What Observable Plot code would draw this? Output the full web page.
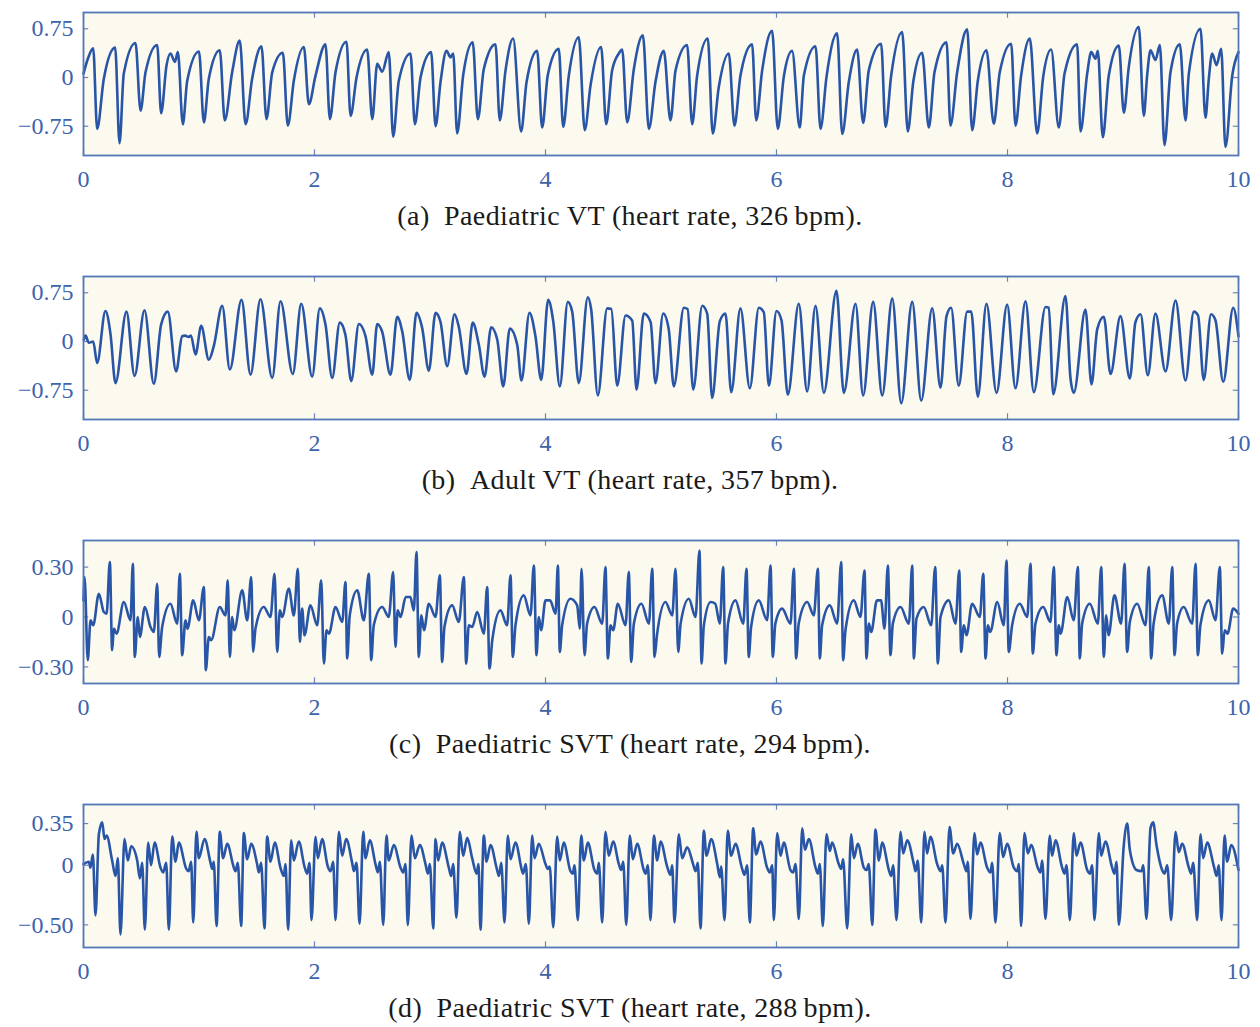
<!DOCTYPE html>
<html><head><meta charset="utf-8">
<script src="https://cdn.jsdelivr.net/npm/d3@7"></script>
<script src="https://cdn.jsdelivr.net/npm/@observablehq/plot@0.6"></script>
<style>
body{margin:0;background:#fff;width:1260px;}
.panel{position:relative;width:1260px;height:264px;}
.panel svg{position:absolute;left:0;top:0;}
.cap{position:absolute;left:0;width:1260px;top:200px;line-height:32px;text-align:center;font-family:"Liberation Serif","DejaVu Serif",serif;font-size:28px;letter-spacing:0.4px;color:#1a1a1a;white-space:pre;}
</style></head><body><div id="root"></div><script>
// ---- data (time s, amplitude) ----
const xTicks = [0, 2, 4, 6, 8, 10];
const captions = [
  "(a)\u2002Paediatric VT (heart rate, 326\u2009bpm).",
  "(b)\u2002Adult VT (heart rate, 357\u2009bpm).",
  "(c)\u2002Paediatric SVT (heart rate, 294\u2009bpm).",
  "(d)\u2002Paediatric SVT (heart rate, 288\u2009bpm)."
];
const yTicksA = [-0.75, 0, 0.75], yLabelsA = ["\u22120.75", "0", "0.75"];
const yTicksB = [-0.75, 0, 0.75], yLabelsB = ["\u22120.75", "0", "0.75"];
const yTicksC = [-0.30, 0, 0.30], yLabelsC = ["\u22120.30", "0", "0.30"];
const yTicksD = [-0.50, 0, 0.35], yLabelsD = ["\u22120.50", "0", "0.35"];
const yDomainA = [-1.2, 1.0], yDomainB = [-1.2, 1.0], yDomainC = [-0.40, 0.46], yDomainD = [-0.69, 0.51];

const paedVT = [[0,0.06],[0.04,0.30],[0.084,0.45],[0.118,-0.79],[0.176,-0.02],[0.274,0.46],[0.312,-1.01],[0.349,0.06],[0.45,0.53],[0.494,-0.51],[0.537,0.08],[0.638,0.50],[0.672,-0.55],[0.719,0.19],[0.753,0.37],[0.791,0.24],[0.817,0.39],[0.86,-0.72],[0.898,-0.05],[1.0,0.40],[1.042,-0.69],[1.085,-0.02],[1.18,0.42],[1.223,-0.66],[1.287,0.08],[1.353,0.57],[1.403,-0.72],[1.46,-0.02],[1.541,0.48],[1.584,-0.64],[1.634,0.08],[1.726,0.38],[1.769,-0.74],[1.821,-0.05],[1.908,0.47],[1.951,-0.41],[2.009,0.03],[2.095,0.51],[2.133,-0.64],[2.182,0.08],[2.277,0.55],[2.312,-0.59],[2.364,0.0],[2.456,0.43],[2.5,-0.64],[2.543,0.21],[2.586,0.09],[2.643,0.39],[2.681,-0.91],[2.73,-0.05],[2.831,0.37],[2.869,-0.72],[2.918,0.0],[3.01,0.39],[3.048,-0.75],[3.091,-0.07],[3.143,0.41],[3.177,0.31],[3.201,0.37],[3.235,-0.86],[3.287,0.03],[3.37,0.54],[3.414,-0.64],[3.466,0.13],[3.567,0.51],[3.604,-0.66],[3.654,0.11],[3.72,0.60],[3.789,-0.83],[3.836,-0.07],[3.928,0.41],[3.971,-0.77],[4.02,0.04],[4.115,0.44],[4.153,-0.76],[4.202,0.03],[4.288,0.62],[4.34,-0.81],[4.39,-0.12],[4.482,0.47],[4.525,-0.72],[4.577,0.11],[4.635,0.37],[4.664,0.43],[4.707,-0.69],[4.765,0.13],[4.843,0.65],[4.895,-0.79],[4.952,-0.07],[5.024,0.41],[5.082,-0.66],[5.126,0.11],[5.226,0.50],[5.27,-0.72],[5.313,0.03],[5.405,0.60],[5.448,-0.86],[5.5,-0.15],[5.587,0.37],[5.636,-0.74],[5.688,0.03],[5.789,0.51],[5.824,-0.66],[5.876,0.11],[5.962,0.72],[6.011,-0.79],[6.063,0.01],[6.135,0.41],[6.201,-0.77],[6.237,0.03],[6.338,0.48],[6.381,-0.79],[6.433,0.01],[6.525,0.68],[6.569,-0.87],[6.626,-0.07],[6.698,0.43],[6.75,-0.70],[6.799,0.11],[6.906,0.52],[6.944,-0.76],[6.993,0.03],[7.088,0.70],[7.137,-0.83],[7.184,-0.07],[7.261,0.38],[7.319,-0.77],[7.368,0.08],[7.472,0.54],[7.506,-0.74],[7.564,0.08],[7.651,0.74],[7.694,-0.81],[7.743,-0.05],[7.818,0.42],[7.881,-0.71],[7.933,0.08],[8.032,0.52],[8.069,-0.74],[8.118,0.03],[8.193,0.60],[8.257,-0.86],[8.309,0.01],[8.378,0.43],[8.444,-0.77],[8.494,0.06],[8.603,0.51],[8.632,-0.83],[8.69,0.06],[8.725,0.39],[8.762,0.29],[8.782,0.41],[8.825,-0.92],[8.877,0.03],[8.964,0.49],[9.007,-0.54],[9.05,0.16],[9.137,0.78],[9.18,-0.59],[9.209,0.03],[9.238,0.42],[9.281,0.27],[9.319,0.50],[9.359,-1.04],[9.411,0.08],[9.492,0.51],[9.541,-0.66],[9.57,0.06],[9.671,0.75],[9.714,-0.62],[9.743,-0.02],[9.772,0.37],[9.81,0.19],[9.85,0.44],[9.887,-1.07],[9.946,0.03],[10,0.39]];

const adultVT = [[0.003,0.03],[0.017,0.09],[0.046,-0.02],[0.084,0.0],[0.118,-0.33],[0.19,0.47],[0.234,0.11],[0.277,-0.64],[0.372,0.46],[0.442,-0.53],[0.528,0.48],[0.609,-0.65],[0.672,0.26],[0.73,0.46],[0.802,-0.46],[0.854,0.08],[0.88,0.09],[0.91,0.07],[0.93,0.09],[0.97,-0.20],[1.019,0.24],[1.085,-0.28],[1.128,-0.07],[1.201,0.55],[1.267,-0.43],[1.368,0.64],[1.446,-0.51],[1.532,0.65],[1.634,-0.56],[1.706,0.62],[1.812,-0.50],[1.885,0.58],[1.98,-0.54],[2.046,0.51],[2.095,0.26],[2.153,-0.56],[2.219,0.29],[2.268,0.10],[2.318,-0.61],[2.384,0.27],[2.442,0.08],[2.5,-0.51],[2.543,0.27],[2.586,0.15],[2.658,-0.51],[2.716,0.38],[2.759,0.16],[2.825,-0.59],[2.883,0.44],[2.932,0.21],[2.99,-0.45],[3.048,0.44],[3.091,0.30],[3.149,-0.38],[3.212,0.42],[3.25,0.22],[3.316,-0.50],[3.37,0.29],[3.423,-0.05],[3.472,-0.54],[3.53,0.22],[3.582,0.03],[3.634,-0.69],[3.691,0.20],[3.755,-0.05],[3.792,-0.60],[3.861,0.44],[3.913,0.08],[3.963,-0.59],[4.023,0.64],[4.067,0.31],[4.124,-0.69],[4.193,0.61],[4.231,0.46],[4.288,-0.64],[4.366,0.68],[4.395,0.50],[4.453,-0.83],[4.534,0.51],[4.57,0.50],[4.621,-0.68],[4.693,0.40],[4.751,0.32],[4.788,-0.74],[4.851,0.43],[4.91,0.30],[4.952,-0.64],[5.019,0.43],[5.067,0.19],[5.111,-0.69],[5.198,0.52],[5.23,0.50],[5.279,-0.74],[5.357,0.55],[5.4,0.43],[5.443,-0.87],[5.509,0.31],[5.558,0.43],[5.608,-0.78],[5.688,0.51],[5.769,-0.72],[5.847,0.52],[5.89,0.45],[5.934,-0.68],[6.0,0.47],[6.043,0.33],[6.098,-0.82],[6.193,0.58],[6.265,-0.77],[6.338,0.55],[6.41,-0.79],[6.519,0.78],[6.583,-0.79],[6.684,0.58],[6.75,-0.83],[6.837,0.61],[6.915,-0.83],[7.002,0.66],[7.08,-0.95],[7.175,0.61],[7.253,-0.91],[7.348,0.51],[7.42,-0.71],[7.472,0.39],[7.512,0.52],[7.578,-0.68],[7.651,0.46],[7.686,0.46],[7.743,-0.85],[7.818,0.58],[7.905,-0.79],[7.997,0.57],[8.069,-0.72],[8.156,0.62],[8.228,-0.78],[8.329,0.53],[8.358,0.52],[8.396,-0.81],[8.502,0.70],[8.545,-0.56],[8.574,-0.79],[8.675,0.49],[8.727,-0.66],[8.777,0.19],[8.834,0.38],[8.892,-0.50],[8.978,0.39],[9.059,-0.57],[9.108,0.30],[9.152,0.42],[9.215,-0.52],[9.281,0.43],[9.368,-0.46],[9.455,0.63],[9.541,-0.60],[9.613,0.46],[9.65,0.40],[9.699,-0.59],[9.762,0.42],[9.8,0.33],[9.868,-0.62],[9.954,0.52],[10,0.08]];

const paedSVT1 = [[0,0.10],[0.009,0.24],[0.037,-0.26],[0.061,-0.02],[0.084,-0.05],[0.133,0.14],[0.176,0.03],[0.2,0.02],[0.228,0.33],[0.248,-0.20],[0.263,-0.07],[0.286,-0.10],[0.349,0.09],[0.407,-0.02],[0.427,0.32],[0.444,-0.24],[0.47,0.0],[0.488,-0.12],[0.531,0.06],[0.58,-0.06],[0.609,-0.09],[0.638,0.20],[0.655,-0.24],[0.681,-0.06],[0.753,0.08],[0.811,-0.04],[0.834,0.26],[0.854,-0.23],[0.883,-0.02],[0.9,-0.07],[0.95,0.10],[0.999,-0.02],[1.042,0.18],[1.059,-0.32],[1.085,-0.12],[1.105,-0.14],[1.18,0.06],[1.229,0.01],[1.249,0.22],[1.267,-0.24],[1.287,0.0],[1.305,-0.08],[1.374,0.16],[1.417,-0.02],[1.452,0.24],[1.469,-0.21],[1.489,-0.07],[1.561,0.06],[1.619,0.0],[1.654,0.26],[1.677,-0.21],[1.7,0.04],[1.72,0.0],[1.778,0.17],[1.821,0.01],[1.856,0.29],[1.873,-0.15],[1.893,0.05],[1.913,-0.11],[1.965,0.07],[2.023,-0.05],[2.058,0.22],[2.081,-0.28],[2.104,-0.08],[2.125,-0.10],[2.182,0.06],[2.24,-0.03],[2.268,0.21],[2.283,-0.25],[2.305,0.01],[2.37,0.16],[2.427,-0.02],[2.47,0.26],[2.491,-0.26],[2.513,-0.05],[2.586,0.06],[2.643,0.0],[2.681,0.27],[2.701,-0.18],[2.72,0.04],[2.745,0.0],[2.79,0.12],[2.83,0.12],[2.86,0.04],[2.883,0.39],[2.903,-0.24],[2.925,0.01],[2.948,-0.08],[2.99,0.08],[3.048,0.0],[3.085,0.25],[3.105,-0.27],[3.125,-0.06],[3.192,0.07],[3.249,-0.03],[3.293,0.24],[3.313,-0.28],[3.336,-0.05],[3.365,-0.06],[3.409,0.03],[3.466,-0.10],[3.495,0.18],[3.515,-0.31],[3.539,-0.14],[3.61,0.04],[3.668,-0.05],[3.697,0.25],[3.717,-0.24],[3.74,-0.05],[3.812,0.13],[3.87,0.01],[3.899,0.31],[3.922,-0.23],[3.942,0.0],[3.962,-0.08],[4.0,0.10],[4.04,0.10],[4.087,0.02],[4.107,0.31],[4.124,-0.21],[4.144,-0.05],[4.216,0.11],[4.274,0.07],[4.297,-0.07],[4.312,0.29],[4.338,-0.23],[4.36,-0.04],[4.424,0.06],[4.491,-0.04],[4.519,0.30],[4.54,-0.25],[4.563,-0.05],[4.586,-0.08],[4.626,0.08],[4.693,-0.05],[4.721,0.27],[4.742,-0.27],[4.765,-0.04],[4.831,0.08],[4.895,-0.04],[4.924,0.29],[4.944,-0.24],[4.965,-0.11],[5.039,0.09],[5.097,0.01],[5.126,0.29],[5.149,-0.21],[5.17,-0.04],[5.241,0.11],[5.299,0.0],[5.333,0.40],[5.351,-0.28],[5.371,-0.05],[5.43,0.09],[5.47,0.08],[5.509,-0.04],[5.538,0.30],[5.558,-0.28],[5.58,-0.04],[5.645,0.10],[5.712,-0.04],[5.74,0.29],[5.76,-0.24],[5.78,-0.06],[5.847,0.10],[5.919,-0.02],[5.948,0.31],[5.968,-0.24],[5.99,-0.04],[6.049,0.05],[6.121,-0.04],[6.15,0.29],[6.17,-0.25],[6.192,-0.04],[6.266,0.09],[6.323,0.01],[6.358,0.29],[6.375,-0.25],[6.395,-0.05],[6.462,0.07],[6.525,-0.04],[6.56,0.33],[6.577,-0.26],[6.597,-0.08],[6.669,0.10],[6.727,0.0],[6.762,0.28],[6.779,-0.25],[6.799,-0.04],[6.82,-0.09],[6.87,0.10],[6.905,0.10],[6.935,-0.07],[6.964,0.31],[6.987,-0.23],[7.007,-0.04],[7.074,0.06],[7.146,-0.04],[7.175,0.31],[7.189,-0.25],[7.212,-0.01],[7.275,0.06],[7.339,-0.05],[7.374,0.30],[7.397,-0.28],[7.42,0.0],[7.492,0.10],[7.55,-0.04],[7.582,0.28],[7.599,-0.21],[7.622,-0.05],[7.645,-0.11],[7.694,0.08],[7.76,0.0],[7.79,0.26],[7.81,-0.25],[7.83,-0.05],[7.85,-0.09],[7.911,0.09],[7.968,-0.05],[7.991,0.34],[8.011,-0.21],[8.04,-0.05],[8.107,0.08],[8.171,0.0],[8.199,0.32],[8.219,-0.22],[8.242,-0.04],[8.309,0.06],[8.372,-0.03],[8.401,0.30],[8.424,-0.23],[8.444,-0.05],[8.46,-0.10],[8.517,0.12],[8.574,-0.02],[8.609,0.30],[8.626,-0.25],[8.646,-0.04],[8.713,0.08],[8.782,-0.04],[8.811,0.30],[8.834,-0.24],[8.854,0.01],[8.875,-0.11],[8.926,0.13],[8.984,-0.04],[9.013,0.32],[9.036,-0.21],[9.059,-0.03],[9.123,0.08],[9.195,-0.05],[9.223,0.30],[9.244,-0.25],[9.265,-0.04],[9.339,0.13],[9.397,-0.04],[9.426,0.30],[9.446,-0.23],[9.468,-0.04],[9.526,0.06],[9.599,-0.04],[9.628,0.32],[9.648,-0.23],[9.67,-0.05],[9.743,0.10],[9.801,-0.02],[9.838,0.30],[9.859,-0.22],[9.88,-0.08],[9.905,-0.10],[9.954,0.05],[10,0.02]];

const paedSVT2 = [[0,0.01],[0.046,0.03],[0.06,-0.02],[0.081,0.09],[0.104,-0.42],[0.133,0.26],[0.162,0.36],[0.182,0.22],[0.2,0.25],[0.248,0.04],[0.277,-0.09],[0.297,0.06],[0.32,-0.58],
[0.355,0.22],[0.384,0.04],[0.413,0.16],[0.465,0.04],[0.488,-0.11],[0.508,0.02],[0.531,-0.54],
[0.56,0.19],[0.585,0.0],[0.615,0.19],[0.667,-0.02],[0.69,-0.06],[0.716,0.02],[0.739,-0.54],
[0.768,0.24],[0.797,0.03],[0.825,0.19],[0.89,-0.03],[0.91,-0.05],[0.932,0.03],[0.95,-0.48],
[0.978,0.28],[0.999,0.06],[1.048,0.22],[1.1,0.02],[1.114,-0.03],[1.128,0.03],[1.152,-0.51],
[1.18,0.28],[1.209,0.06],[1.244,0.18],[1.302,-0.02],[1.316,-0.05],[1.336,0.02],[1.365,-0.51],
[1.388,0.27],[1.417,0.05],[1.452,0.18],[1.503,0.01],[1.518,-0.06],[1.538,0.02],[1.567,-0.53],
[1.59,0.24],[1.619,0.03],[1.656,0.19],[1.705,-0.02],[1.734,-0.09],[1.749,0.01],[1.772,-0.54],
[1.798,0.21],[1.821,0.04],[1.864,0.20],[1.913,-0.01],[1.936,-0.07],[1.957,0.02],[1.974,-0.46],
[2.009,0.24],[2.029,0.06],[2.066,0.22],[2.115,-0.01],[2.139,-0.05],[2.162,0.03],[2.182,-0.46],
[2.211,0.28],[2.24,0.08],[2.274,0.22],[2.326,0.02],[2.341,-0.05],[2.364,0.02],[2.39,-0.49],
[2.422,0.28],[2.442,0.06],[2.479,0.21],[2.528,0.01],[2.548,-0.06],[2.566,0.03],[2.595,-0.50],
[2.623,0.25],[2.643,0.04],[2.687,0.17],[2.745,-0.02],[2.768,-0.06],[2.788,0.01],[2.808,-0.50],
[2.84,0.25],[2.869,0.06],[2.912,0.17],[2.961,0.01],[2.981,-0.07],[2.999,0.01],[3.028,-0.53],
[3.048,0.22],[3.071,0.04],[3.105,0.19],[3.163,-0.02],[3.183,-0.09],[3.201,0.01],[3.229,-0.44],
[3.258,0.28],[3.287,0.08],[3.322,0.23],[3.365,0.06],[3.403,-0.07],[3.42,0.01],[3.437,-0.54],
[3.466,0.25],[3.489,0.03],[3.524,0.17],[3.576,-0.02],[3.597,-0.09],[3.617,0.02],[3.645,-0.48],
[3.674,0.25],[3.697,0.05],[3.74,0.19],[3.798,-0.05],[3.806,-0.07],[3.83,0.01],[3.856,-0.49],
[3.885,0.25],[3.905,0.06],[3.942,0.18],[4.0,0.01],[4.02,-0.03],[4.037,-0.01],[4.067,-0.52],
[4.101,0.24],[4.124,0.04],[4.158,0.19],[4.216,-0.05],[4.236,-0.07],[4.251,0.0],[4.28,-0.46],
[4.309,0.25],[4.332,0.04],[4.366,0.19],[4.424,-0.04],[4.447,-0.07],[4.462,0.02],[4.491,-0.48],
[4.519,0.28],[4.548,0.08],[4.586,0.20],[4.635,0.01],[4.655,-0.04],[4.673,0.03],[4.699,-0.50],
[4.73,0.25],[4.756,0.05],[4.794,0.18],[4.851,-0.04],[4.866,-0.07],[4.886,0.0],[4.909,-0.46],
[4.938,0.25],[4.967,0.04],[4.996,0.20],[5.053,-0.01],[5.082,-0.08],[5.097,0.0],[5.117,-0.48],
[5.154,0.26],[5.183,0.06],[5.227,0.15],[5.278,0.01],[5.299,-0.05],[5.319,0.02],[5.342,-0.53],
[5.371,0.29],[5.394,0.08],[5.435,0.22],[5.487,0.01],[5.509,-0.10],[5.521,-0.01],[5.55,-0.46],
[5.578,0.29],[5.607,0.08],[5.645,0.18],[5.703,-0.03],[5.723,-0.08],[5.746,0.0],[5.769,-0.48],
[5.798,0.31],[5.824,0.09],[5.861,0.20],[5.919,-0.02],[5.942,-0.06],[5.963,0.0],[5.977,-0.46],
[6.006,0.27],[6.035,0.08],[6.063,0.19],[6.121,-0.04],[6.144,-0.06],[6.165,0.01],[6.193,-0.45],
[6.223,0.31],[6.246,0.13],[6.28,0.22],[6.338,-0.02],[6.358,-0.07],[6.375,0.01],[6.401,-0.51],
[6.433,0.26],[6.462,0.12],[6.482,0.19],[6.539,0.01],[6.56,-0.03],[6.577,0.05],[6.612,-0.53],
[6.647,0.26],[6.67,0.06],[6.704,0.18],[6.756,-0.02],[6.779,-0.04],[6.799,0.01],[6.829,-0.50],
[6.857,0.30],[6.886,0.04],[6.915,0.19],[6.973,-0.04],[6.993,-0.09],[7.01,0.0],[7.039,-0.46],
[7.074,0.28],[7.097,0.10],[7.132,0.21],[7.189,0.01],[7.204,-0.05],[7.223,0.04],[7.253,-0.48],
[7.281,0.28],[7.304,0.10],[7.333,0.24],[7.391,0.01],[7.42,-0.05],[7.435,0.0],[7.463,-0.48],
[7.498,0.32],[7.53,0.10],[7.564,0.18],[7.622,0.01],[7.645,-0.05],[7.656,0.03],[7.68,-0.45],
[7.714,0.27],[7.737,0.09],[7.766,0.19],[7.824,-0.02],[7.853,-0.06],[7.867,0.02],[7.896,-0.48],
[7.933,0.27],[7.962,0.07],[7.997,0.18],[8.055,-0.02],[8.084,-0.05],[8.098,0.01],[8.118,-0.51],
[8.147,0.27],[8.176,0.10],[8.205,0.17],[8.262,-0.02],[8.285,-0.06],[8.3,0.04],[8.329,-0.45],
[8.366,0.25],[8.386,0.08],[8.416,0.21],[8.473,-0.02],[8.493,-0.07],[8.511,0.0],[8.54,-0.46],
[8.574,0.27],[8.597,0.08],[8.632,0.19],[8.69,-0.04],[8.713,-0.07],[8.733,0.0],[8.753,-0.46],
[8.791,0.27],[8.811,0.08],[8.848,0.20],[8.906,-0.02],[8.926,-0.07],[8.944,0.03],[8.964,-0.50],
[9.007,0.17],[9.036,0.35],[9.059,0.13],[9.117,-0.04],[9.16,-0.05],[9.175,0.0],[9.203,-0.45],
[9.238,0.31],[9.261,0.36],[9.29,0.17],[9.339,-0.04],[9.359,-0.07],[9.383,0.0],[9.417,-0.46],
[9.455,0.28],[9.483,0.11],[9.512,0.18],[9.57,-0.02],[9.59,-0.07],[9.608,0.02],[9.642,-0.46],
[9.671,0.26],[9.694,0.06],[9.729,0.19],[9.787,-0.01],[9.81,-0.09],[9.829,0.0],[9.853,-0.46],
[9.879,0.25],[9.902,0.03],[9.937,0.17],[10,-0.04]];

// ---- styling ----
const FONT = '"Liberation Serif","DejaVu Serif",serif';
const BG = "#fcf9ee", LINE = "#2855a6", FRAME = "#5376b6", TICK = "#6a86bd", LABEL = "#3d63ab";

function makePanel(data, yDomain, yTicks, yLabels, caption) {
  const [y0, y1] = yDomain;
  const xLen = (y1 - y0) * 0.04;
  const yLen = 0.045;
  const svg = Plot.plot({
    width: 1260, height: 197,
    marginLeft: 83, marginRight: 22, marginTop: 12, marginBottom: 42,
    x: {domain: [0, 10]},
    y: {domain: yDomain},
    style: {fontFamily: FONT, fontSize: "24px", background: "transparent", overflow: "visible"},
    marks: [
      Plot.frame({fill: BG}),
      Plot.ruleX(xTicks, {x: d => d, y1: y0, y2: y0 + xLen, stroke: TICK, strokeWidth: 1.2}),
      Plot.ruleX(xTicks, {x: d => d, y1: y1 - xLen, y2: y1, stroke: TICK, strokeWidth: 1.2}),
      Plot.ruleY(yTicks, {y: d => d, x1: 0, x2: yLen, stroke: TICK, strokeWidth: 1.2}),
      Plot.ruleY(yTicks, {y: d => d, x1: 10 - yLen, x2: 10, stroke: TICK, strokeWidth: 1.2}),
      Plot.line(data, {x: d => d[0], y: d => d[1], stroke: LINE, strokeWidth: 2.6, curve: "monotone-x"}),
      Plot.frame({stroke: FRAME, strokeWidth: 1.8}),
      Plot.axisX(xTicks, {tickSize: 0, tickPadding: 14, fill: LABEL, label: null, tickFormat: d => String(d)}),
      Plot.axisY(yTicks, {tickSize: 0, tickPadding: 10, fill: LABEL, label: null, tickFormat: d => yLabels[yTicks.indexOf(d)]})
    ]
  });
  const div = document.createElement("div");
  div.className = "panel";
  div.appendChild(svg);
  const cap = document.createElement("div");
  cap.className = "cap";
  cap.textContent = caption;
  div.appendChild(cap);
  return div;
}

const root = document.getElementById("root");
root.appendChild(makePanel(paedVT, yDomainA, yTicksA, yLabelsA, captions[0]));
root.appendChild(makePanel(adultVT, yDomainB, yTicksB, yLabelsB, captions[1]));
root.appendChild(makePanel(paedSVT1, yDomainC, yTicksC, yLabelsC, captions[2]));
root.appendChild(makePanel(paedSVT2, yDomainD, yTicksD, yLabelsD, captions[3]));
</script></body></html>
